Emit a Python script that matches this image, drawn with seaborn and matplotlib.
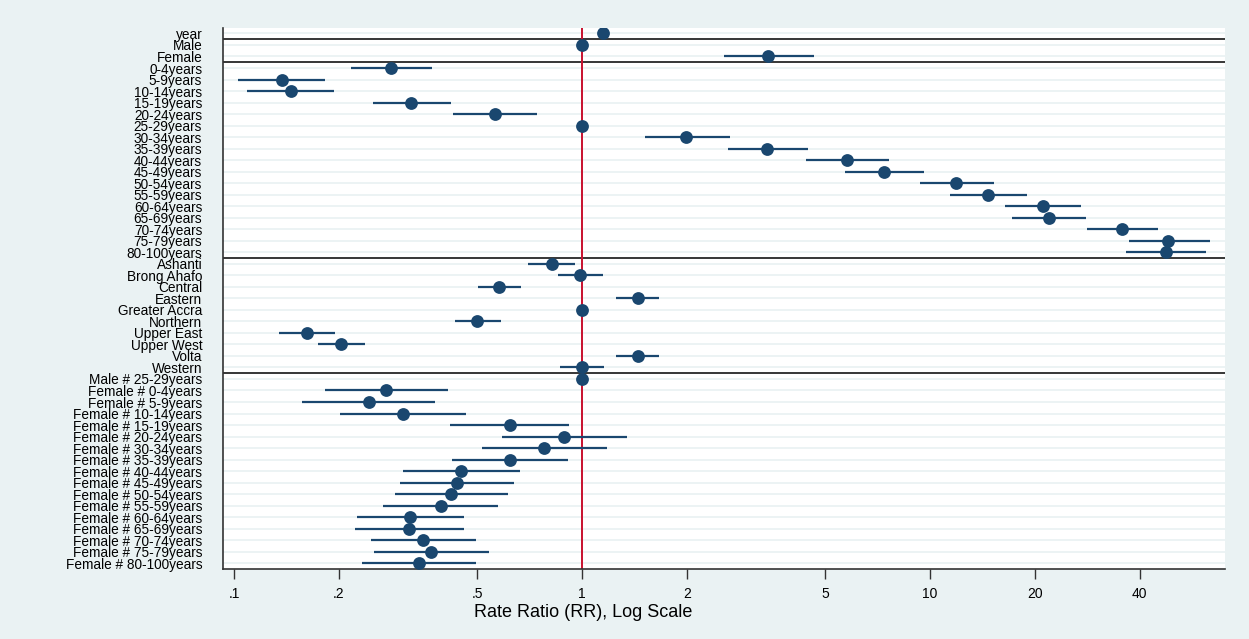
import numpy as np
import pandas as pd
import matplotlib
matplotlib.use("Agg")
import matplotlib.pyplot as plt
import seaborn as sns

labels = ["year", "Male", "Female",
          "0-4years", "5-9years", "10-14years", "15-19years", "20-24years", "25-29years",
          "30-34years", "35-39years", "40-44years", "45-49years", "50-54years", "55-59years",
          "60-64years", "65-69years", "70-74years", "75-79years", "80-100years",
          "Ashanti", "Brong Ahafo", "Central", "Eastern", "Greater Accra", "Northern",
          "Upper East", "Upper West", "Volta", "Western",
          "Male # 25-29years", "Female # 0-4years", "Female # 5-9years", "Female # 10-14years",
          "Female # 15-19years", "Female # 20-24years", "Female # 30-34years", "Female # 35-39years",
          "Female # 40-44years", "Female # 45-49years", "Female # 50-54years", "Female # 55-59years",
          "Female # 60-64years", "Female # 65-69years", "Female # 70-74years", "Female # 75-79years",
          "Female # 80-100years"]

rr = [1.15, 1.0, 3.42,
      0.283, 0.137, 0.146, 0.322, 0.561, 1.0,
      1.995, 3.41, 5.76, 7.38, 11.85, 14.7,
      21.1, 22.0, 35.5, 48.4, 47.8,
      0.818, 0.989, 0.577, 1.446, 1.0, 0.499,
      0.162, 0.203, 1.446, 1.0,
      1.0, 0.273, 0.244, 0.306,
      0.620, 0.890, 0.776, 0.621,
      0.448, 0.437, 0.419, 0.392,
      0.320, 0.319, 0.349, 0.367,
      0.340]

lo = [1.14, np.nan, 2.556,
      0.217, 0.1026, 0.109, 0.250, 0.426, np.nan,
      1.514, 2.63, 4.40, 5.68, 9.35, 11.4,
      16.4, 17.2, 28.2, 37.2, 36.6,
      0.701, 0.855, 0.502, 1.252, np.nan, 0.430,
      0.135, 0.174, 1.252, 0.866,
      np.nan, 0.182, 0.157, 0.202,
      0.418, 0.589, 0.514, 0.422,
      0.305, 0.299, 0.289, 0.268,
      0.226, 0.223, 0.247, 0.253,
      0.233]

hi = [1.16, np.nan, 4.63,
      0.371, 0.183, 0.194, 0.420, 0.740, np.nan,
      2.655, 4.47, 7.64, 9.58, 15.3, 19.05,
      27.1, 28.1, 45.1, 63.6, 61.9,
      0.956, 1.149, 0.667, 1.661, np.nan, 0.584,
      0.195, 0.238, 1.667, 1.154,
      np.nan, 0.411, 0.379, 0.465,
      0.918, 1.344, 1.178, 0.912,
      0.665, 0.638, 0.613, 0.574,
      0.459, 0.459, 0.496, 0.540,
      0.496]

group_breaks = [0.5, 2.5, 19.5, 29.5]
xticks = [0.1, 0.2, 0.5, 1, 2, 5, 10, 20, 40]
xticklabels = [".1", ".2", ".5", "1", "2", "5", "10", "20", "40"]

df = pd.DataFrame({"label": labels, "rr": rr, "lo": lo, "hi": hi})
df["row"] = np.arange(len(df))

sns.set_theme(style="white")
plt.rcParams["font.family"] = ["Liberation Sans", "DejaVu Sans"]

BG = "#eaf2f3"
NAVY = "#1a476f"

fig = plt.figure(figsize=(12.49, 6.39), dpi=100, facecolor=BG)
ax = fig.add_axes([223 / 1249, 1 - 569 / 639, (1225 - 223) / 1249, (569 - 27.7) / 639])
ax.set_facecolor("white")

# row gridlines
for r in df["row"]:
    ax.axhline(r, color=BG, lw=1.3, zorder=0)

# group separators
for b in group_breaks:
    ax.axhline(b, color="black", lw=1.1, zorder=1)

# reference line
ax.axvline(1, color="#c8102e", lw=1.4, zorder=2)

# confidence intervals
ci = df.dropna(subset=["lo", "hi"])
ax.hlines(ci["row"], ci["lo"], ci["hi"], color=NAVY, lw=1.6, zorder=3)

sns.scatterplot(data=df, x="rr", y="row", ax=ax, color=NAVY, s=85,
                edgecolor=NAVY, linewidth=0, zorder=4, legend=False)

ax.set_xscale("log")
ax.set_xlim(0.0929, 70.4)
ax.set_ylim(46.5, -0.5)

ax.set_yticks(df["row"])
ax.set_yticklabels(df["label"], fontsize=9.8, color="black")
ax.tick_params(axis="y", length=0, pad=15)

ax.set_xticks(xticks)
ax.set_xticklabels(xticklabels, fontsize=10, color="black")
ax.xaxis.set_minor_locator(matplotlib.ticker.NullLocator())
ax.tick_params(axis="x", length=7, width=1, color="#333333", pad=6, direction="out", bottom=True)

ax.set_xlabel("Rate Ratio (RR), Log Scale", fontsize=13, color="black")
ax.xaxis.set_label_coords((583 - 223) / (1225 - 223), -0.064)
ax.set_ylabel("")

for s in ["top", "right"]:
    ax.spines[s].set_visible(False)
for s in ["left", "bottom"]:
    ax.spines[s].set_visible(True)
    ax.spines[s].set_color("#333333")
    ax.spines[s].set_linewidth(1.2)

fig.savefig("out.png", dpi=100, facecolor=BG)
